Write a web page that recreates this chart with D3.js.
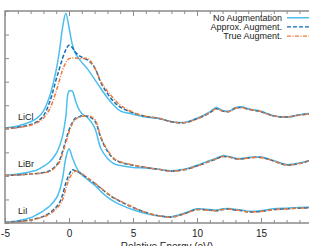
<!DOCTYPE html>
<html>
<head>
<meta charset="utf-8">
<script src="https://cdn.jsdelivr.net/npm/d3@7"></script>
<style>
  body { margin: 0; background: #fff; }
  text { font-family: "Liberation Sans", Arial, sans-serif; fill: #222; }
</style>
</head>
<body>
<div id="chart"></div>
<script>
// energy grid (eV) shared by all curves
let energies = [-5, -4, -3, -2.5, -2, -1.5, -1, -0.75, -0.5, -0.25, 0, 0.25, 0.5, 0.75, 1, 1.5, 2, 2.5, 3, 3.5,
    4, 5, 6, 7, 8, 9, 10, 11, 11.5, 12, 12.5, 13, 13.5, 14, 15, 16, 17, 18, 19, 20];

// intensities above each system's own baseline
let liclNoAug  = [0.03, 0.12, 0.3, 0.45, 0.75, 1.4, 2.5, 3.3, 4.3, 4.9, 4.3, 3.6, 3.2, 3.0, 2.82, 2.5, 2.1, 1.7, 1.32, 1.0,
    0.76, 0.62, 0.5, 0.44, 0.3, 0.27, 0.45, 0.72, 0.9, 0.78, 0.75, 0.9, 0.93, 0.85, 0.74, 0.55, 0.5, 0.6, 0.66, 0.7];
let liclApprox = [0.02, 0.06, 0.18, 0.3, 0.55, 1.15, 2.1, 2.55, 3.0, 3.35, 3.55, 3.45, 3.25, 3.12, 3.04, 2.9, 2.6, 1.95, 1.5, 1.15,
    0.92, 0.68, 0.52, 0.45, 0.3, 0.26, 0.42, 0.68, 0.85, 0.75, 0.73, 0.87, 0.9, 0.83, 0.72, 0.54, 0.5, 0.58, 0.64, 0.68];
let liclTrue   = [0.02, 0.05, 0.15, 0.25, 0.45, 0.85, 1.6, 2.05, 2.5, 2.8, 2.98, 3.0, 3.0, 2.98, 2.98, 2.97, 2.6, 2.0, 1.6, 1.28,
    1.0, 0.7, 0.53, 0.45, 0.3, 0.26, 0.42, 0.68, 0.85, 0.75, 0.73, 0.87, 0.9, 0.83, 0.72, 0.54, 0.5, 0.58, 0.64, 0.68];

let libeNoAug  = [0.02, 0.08, 0.18, 0.25, 0.4, 0.6, 0.95, 1.25, 1.7, 2.5, 3.6, 3.6, 3.2, 2.85, 2.65, 2.45, 2.05, 1.15, 0.75, 0.52,
    0.44, 0.36, 0.33, 0.28, 0.22, 0.28, 0.45, 0.65, 0.75, 0.86, 0.82, 0.75, 0.74, 0.78, 0.8, 0.65, 0.48, 0.55, 0.68, 0.75];
let libeApprox = [0.02, 0.04, 0.08, 0.1, 0.14, 0.22, 0.45, 0.65, 1.05, 1.5, 1.95, 2.25, 2.45, 2.5, 2.55, 2.52, 2.35, 1.6, 1.05, 0.72,
    0.58, 0.45, 0.36, 0.28, 0.2, 0.26, 0.42, 0.62, 0.72, 0.82, 0.8, 0.73, 0.72, 0.76, 0.78, 0.63, 0.46, 0.53, 0.66, 0.73];
let libeTrue   = [0.02, 0.04, 0.08, 0.1, 0.13, 0.18, 0.4, 0.58, 0.95, 1.4, 1.85, 2.2, 2.4, 2.48, 2.52, 2.55, 2.4, 1.65, 1.1, 0.75,
    0.6, 0.46, 0.36, 0.28, 0.2, 0.26, 0.42, 0.62, 0.72, 0.82, 0.8, 0.73, 0.72, 0.76, 0.78, 0.63, 0.46, 0.53, 0.66, 0.73];

let liiNoAug   = [0.03, 0.1, 0.22, 0.36, 0.52, 0.72, 1.05, 1.35, 1.9, 2.75, 3.15, 2.8, 2.45, 2.2, 2.05, 1.82, 1.6, 1.33, 1.1, 0.92,
    0.78, 0.56, 0.4, 0.3, 0.27, 0.42, 0.6, 0.57, 0.55, 0.6, 0.62, 0.58, 0.55, 0.5, 0.52, 0.6, 0.63, 0.66, 0.68, 0.7];
let liiApprox  = [0.02, 0.06, 0.13, 0.2, 0.28, 0.43, 0.68, 0.85, 1.2, 1.7, 2.05, 2.26, 2.22, 2.15, 2.08, 1.88, 1.68, 1.47, 1.25, 1.06,
    0.92, 0.66, 0.45, 0.31, 0.25, 0.39, 0.57, 0.54, 0.52, 0.57, 0.59, 0.55, 0.52, 0.47, 0.49, 0.57, 0.6, 0.63, 0.65, 0.67];
let liiTrue    = [0.02, 0.05, 0.12, 0.18, 0.26, 0.38, 0.6, 0.75, 1.0, 1.45, 1.85, 2.1, 2.2, 2.18, 2.1, 1.9, 1.7, 1.48, 1.27, 1.08,
    0.93, 0.67, 0.45, 0.31, 0.25, 0.39, 0.57, 0.54, 0.52, 0.57, 0.59, 0.55, 0.52, 0.47, 0.49, 0.57, 0.6, 0.63, 0.65, 0.67];

let systems = ["LiCl", "LiBr", "LiI"];
let offsets = [4, 2, 0];
let seriesNames = ["No Augmentation", "Approx. Augment.", "True Augment."];
let curves = [
    [liclNoAug, liclApprox, liclTrue],
    [libeNoAug, libeApprox, libeTrue],
    [liiNoAug, liiApprox, liiTrue]
];
let xTicks = [-5, 0, 5, 10, 15, 20];
let xTickLabels = ["-5", "0", "5", "10", "15", ""];

let colors = ["#4dbeee", "#0f6db3", "#ee7a3c"];
let dashes = [null, "4,2", "4,1.5,1,1.5"];

let width = 309, height = 246;
let margin = {left: 5, right: 325, top: 11, bottom: 223};

let x = d3.scaleLinear().domain([-5, 20]).range([margin.left, margin.right]);
let y = d3.scaleLinear().domain([0, 9]).range([margin.bottom, margin.top]);

let svg = d3.select("#chart").append("svg")
    .attr("width", width)
    .attr("height", height);

svg.append("clipPath").attr("id", "plotclip")
    .append("rect")
    .attr("x", margin.left).attr("y", margin.top)
    .attr("width", margin.right - margin.left).attr("height", margin.bottom - margin.top);

// curves, drawn in series order so the orange sits on top
let line = d3.line()
    .x((d) => x(d[0]))
    .y((d) => y(d[1]))
    .curve(d3.curveCatmullRom.alpha(0.5));

let plot = svg.append("g").attr("clip-path", "url(#plotclip)");

curves.forEach((sys, si) => {
    sys.forEach((vals, ci) => {
        let pts = energies.map((e, i) => [e, vals[i] + offsets[si]]);
        plot.append("path")
            .datum(pts)
            .attr("fill", "none")
            .attr("stroke", colors[ci])
            .attr("stroke-width", 1.5)
            .attr("stroke-dasharray", dashes[ci])
            .attr("d", line);
    });
});

// axes: ticks point inwards, gnuplot style
let axisColor = "#8a8a8a";

let bottomAxis = svg.append("g")
    .attr("transform", "translate(0," + margin.bottom + ")")
    .call(d3.axisBottom(x).tickValues(xTicks).tickSize(-5).tickPadding(7)
        .tickFormat((d, i) => xTickLabels[i]));
let bottomMinor = svg.append("g")
    .attr("transform", "translate(0," + margin.bottom + ")")
    .call(d3.axisBottom(x).tickValues(d3.range(-5, 21)).tickSize(-3).tickFormat(""));
let topAxis = svg.append("g")
    .attr("transform", "translate(0," + margin.top + ")")
    .call(d3.axisTop(x).tickValues(xTicks).tickSize(-5).tickFormat(""));
let topMinor = svg.append("g")
    .attr("transform", "translate(0," + margin.top + ")")
    .call(d3.axisTop(x).tickValues(d3.range(-5, 21)).tickSize(-3).tickFormat(""));
let leftAxis = svg.append("g")
    .attr("transform", "translate(" + margin.left + ",0)")
    .call(d3.axisLeft(y).tickValues(d3.range(0, 10)).tickSize(-4).tickFormat(""));

[bottomAxis, bottomMinor, topAxis, topMinor, leftAxis].forEach((g) => {
    g.select(".domain").remove();
    g.selectAll(".tick line").attr("stroke", axisColor).attr("stroke-width", 1);
});
bottomAxis.selectAll("text")
    .style("font-family", "Liberation Sans, Arial, sans-serif")
    .style("font-size", "10px")
    .attr("fill", "#222");

// border
svg.append("path")
    .attr("d", `M${margin.right},${margin.top}H${margin.left}V${margin.bottom}H${margin.right}`)
    .attr("fill", "none")
    .attr("stroke", axisColor)
    .attr("stroke-width", 1.5);

// system labels
systems.forEach((s, i) => {
    svg.append("text")
        .attr("x", 18)
        .attr("y", y(offsets[i]) - 9)
        .style("font-size", "9px")
        .text(s);
});

// legend
let legend = svg.append("g");
seriesNames.forEach((name, i) => {
    let ly = 21 + i * 9.2;
    legend.append("text")
        .attr("x", 282)
        .attr("y", ly)
        .attr("text-anchor", "end")
        .style("font-size", "9px")
        .text(name);
    legend.append("line")
        .attr("x1", 287).attr("x2", 322)
        .attr("y1", ly - 3.3).attr("y2", ly - 3.3)
        .attr("stroke", colors[i])
        .attr("stroke-width", 1.4)
        .attr("stroke-dasharray", dashes[i]);
});

// axis title sits partly below the visible area, as in the source figure
svg.append("text")
    .attr("x", 167)
    .attr("y", 250)
    .attr("text-anchor", "middle")
    .style("font-size", "10px")
    .text("Relative Energy (eV)");
</script>
</body>
</html>
